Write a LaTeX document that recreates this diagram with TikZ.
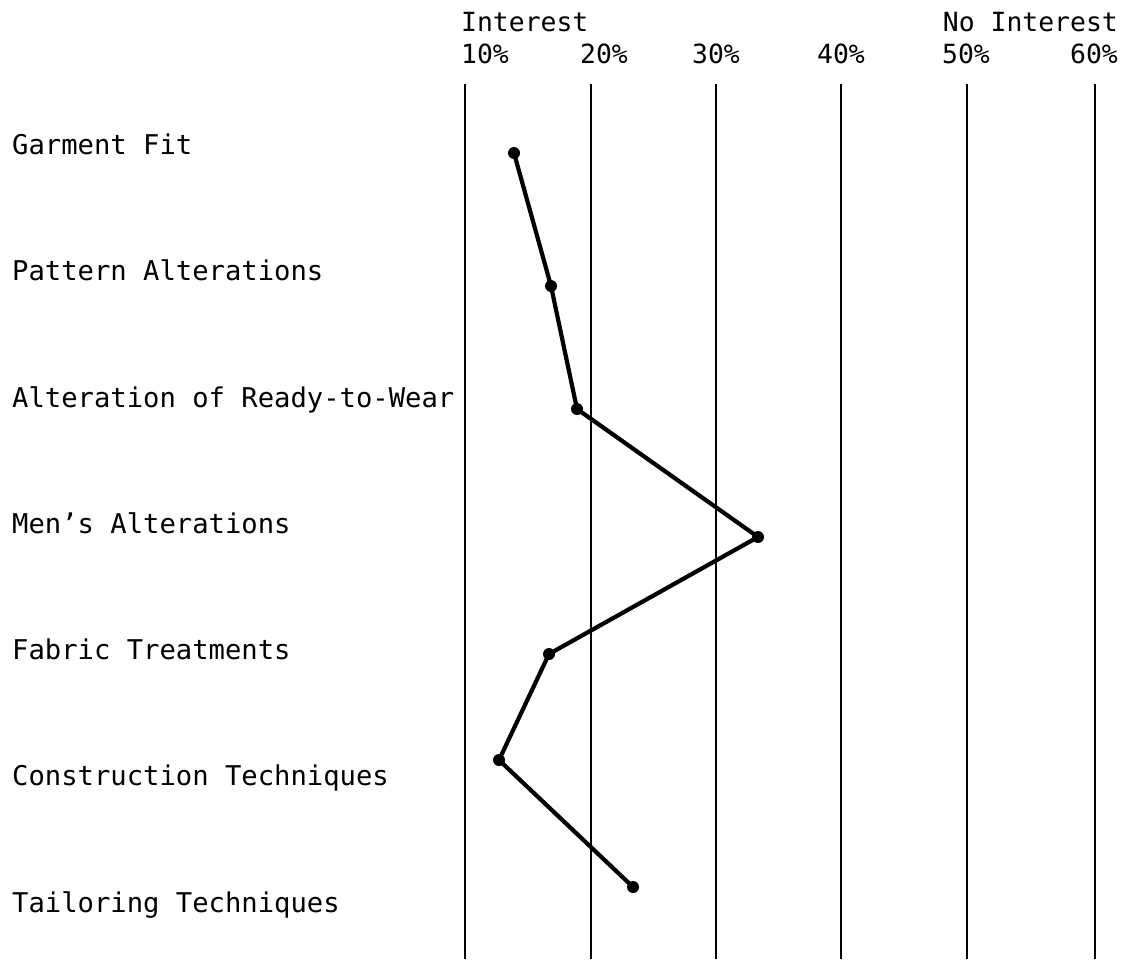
\documentclass[tikz,border=0pt]{standalone}
\usepackage{fontspec}
\setmainfont{DejaVu Sans Mono}
\begin{document}
\begin{tikzpicture}[x=1pt,y=-1pt,
  lbl/.style={inner sep=0pt,anchor=base west,font=\fontsize{27.2}{30}\selectfont},
  hdr/.style={inner sep=0pt,font=\fontsize{26.4}{30}\selectfont},
  gridline/.style={line width=1.6pt,black},
  dataline/.style={line width=4.2pt,black,line join=round},
  dot/.style={circle,fill=black,inner sep=0pt,minimum size=12pt}]
\useasboundingbox (0,0) rectangle (1126,964);
% header
\node[hdr,anchor=base west] (hint) at (461,31) {Interest};
\node[hdr,anchor=base east] (hno) at (1118,31) {No Interest};
\node[hdr,anchor=base west] (t1) at (461,63) {10\%};
\node[hdr,anchor=base west] (t2) at (580,63) {20\%};
\node[hdr,anchor=base] (t3) at (716,63) {30\%};
\node[hdr,anchor=base] (t4) at (841,63) {40\%};
\node[hdr,anchor=base] (t5) at (966,63) {50\%};
\node[hdr,anchor=base east] (t6) at (1118,63) {60\%};
\foreach \x [count=\i] in {465,591,716,841,967,1095}{
  \coordinate (g\i a) at (\x,84);
  \coordinate (g\i b) at (\x,959);
  \draw[gridline] (g\i a) -- (g\i b);
}
% category labels
\node[lbl] (c1) at (12,154) {Garment Fit};
\node[lbl] (c2) at (12,280) {Pattern Alterations};
\node[lbl] (c3) at (12,407) {Alteration of Ready-to-Wear};
\node[lbl] (c4) at (12,533) {Men's Alterations};
\node[lbl] (c5) at (12,659) {Fabric Treatments};
\node[lbl] (c6) at (12,785) {Construction Techniques};
\node[lbl] (c7) at (12,912) {Tailoring Techniques};
% data
\coordinate (p1) at (514,153);
\coordinate (p2) at (551,286);
\coordinate (p3) at (577,409);
\coordinate (p4) at (758,537);
\coordinate (p5) at (549,654);
\coordinate (p6) at (499,760);
\coordinate (p7) at (633,887);
\draw[dataline] (p1) -- (p2) -- (p3) -- (p4) -- (p5) -- (p6) -- (p7);
\foreach \i in {1,...,7}{\node[dot] (d\i) at (p\i) {};}
\end{tikzpicture}
\end{document}
